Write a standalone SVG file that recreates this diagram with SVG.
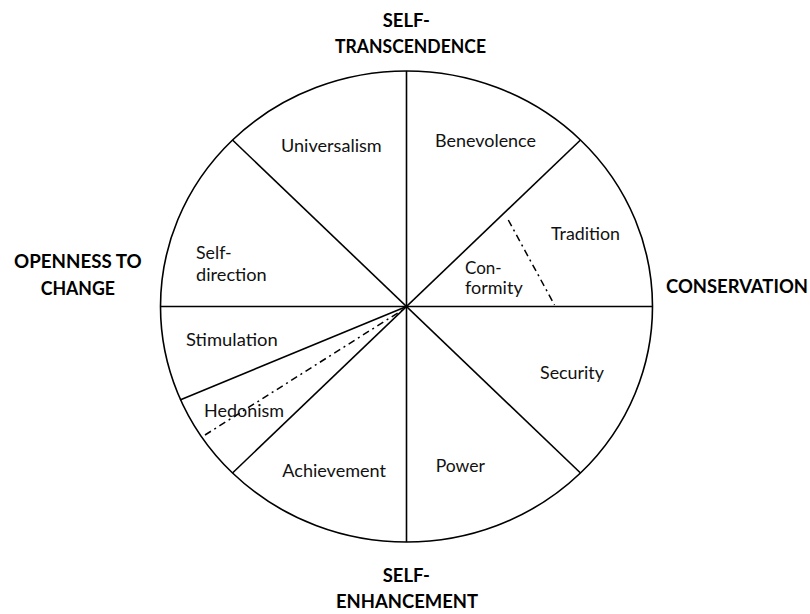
<svg xmlns="http://www.w3.org/2000/svg" width="810" height="614" viewBox="0 0 810 614">
<style>
.ln{stroke:#000;stroke-width:1.6;fill:none}
.dd{stroke:#000;stroke-width:1.5;fill:none;stroke-dasharray:7 4 2 4}
.t{font-family:Lato,"Liberation Sans",sans-serif;font-size:17.5px;fill:#111}
.b{font-family:Lato,"Liberation Sans",sans-serif;font-size:18.5px;font-weight:bold;fill:#000}
</style>
<rect width="810" height="614" fill="#fff"/>
<g id="circle">
<ellipse class="ln" cx="406.5" cy="306.5" rx="246" ry="235.5"/>
</g>
<g id="connectors">
<line class="ln" x1="406.5" y1="71" x2="406.5" y2="542"/>
<line class="ln" x1="160.5" y1="306.5" x2="652.5" y2="306.5"/>
<line class="ln" x1="232.5" y1="140" x2="580.5" y2="473"/>
<line class="ln" x1="580.5" y1="140" x2="232.5" y2="473"/>
<line class="ln" x1="180" y1="400" x2="406.5" y2="306.5"/>
<line class="dd" x1="205" y1="435" x2="404" y2="309"/>
<line class="dd" x1="508.3" y1="220" x2="554.5" y2="305"/>
</g>
<g id="universalism"><text class="t" x="281" y="151.7" textLength="100.7" lengthAdjust="spacingAndGlyphs">Universalism</text></g>
<g id="benevolence"><text class="t" x="435" y="147.3" textLength="101" lengthAdjust="spacingAndGlyphs">Benevolence</text></g>
<g id="tradition"><text class="t" x="551" y="240" textLength="69" lengthAdjust="spacingAndGlyphs">Tradition</text></g>
<g id="conformity"><text class="t" x="465" y="274" textLength="36.7" lengthAdjust="spacingAndGlyphs">Con-</text><text class="t" x="465" y="294" textLength="57.7" lengthAdjust="spacingAndGlyphs">formity</text></g>
<g id="self-direction"><text class="t" x="196" y="259" textLength="35.7" lengthAdjust="spacingAndGlyphs">Self-</text><text class="t" x="196" y="280.7" textLength="70.7" lengthAdjust="spacingAndGlyphs">direction</text></g>
<g id="stimulation"><text class="t" x="186" y="345.7" textLength="91.7" lengthAdjust="spacingAndGlyphs">Stimulation</text></g>
<g id="security"><text class="t" x="540" y="379" textLength="64" lengthAdjust="spacingAndGlyphs">Security</text></g>
<g id="hedonism"><text class="t" x="204" y="417.3" textLength="80" lengthAdjust="spacingAndGlyphs">Hedonism</text></g>
<g id="achievement"><text class="t" x="282.3" y="477.3" textLength="103.7" lengthAdjust="spacingAndGlyphs">Achievement</text></g>
<g id="power"><text class="t" x="435.7" y="471.7" textLength="49.3" lengthAdjust="spacingAndGlyphs">Power</text></g>
<g id="self-transcendence"><text class="b" x="382.7" y="26.7" textLength="47.3" lengthAdjust="spacingAndGlyphs">SELF-</text><text class="b" x="335" y="53.3" textLength="151" lengthAdjust="spacingAndGlyphs">TRANSCENDENCE</text></g>
<g id="openness-to-change"><text class="b" x="14" y="268.3" textLength="127.7" lengthAdjust="spacingAndGlyphs">OPENNESS TO</text><text class="b" x="40.7" y="295" textLength="74.3" lengthAdjust="spacingAndGlyphs">CHANGE</text></g>
<g id="conservation"><text class="b" x="666" y="293.3" textLength="142" lengthAdjust="spacingAndGlyphs">CONSERVATION</text></g>
<g id="self-enhancement"><text class="b" x="382.7" y="581.7" textLength="47.3" lengthAdjust="spacingAndGlyphs">SELF-</text><text class="b" x="336" y="608.3" textLength="142" lengthAdjust="spacingAndGlyphs">ENHANCEMENT</text></g>
</svg>
